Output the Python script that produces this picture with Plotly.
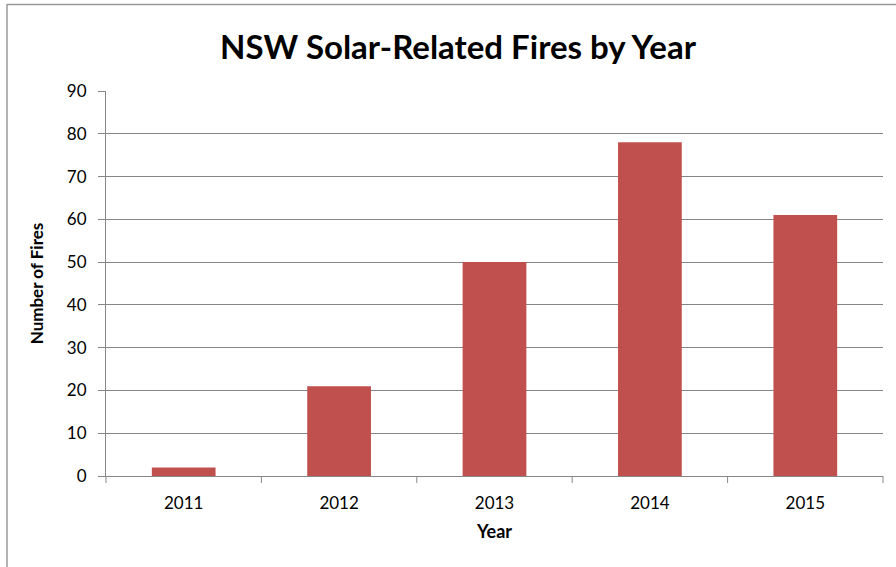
import plotly.graph_objects as go

years = ["2011", "2012", "2013", "2014", "2015"]
fires = [2, 21, 50, 78, 61]
y_ticks = [0, 10, 20, 30, 40, 50, 60, 70, 80, 90]

FONT = "Lato"
W, H = 896, 567
L, R, T, B = 106, 13, 91, 91
pw, ph = W - L - R, H - T - B

fig = go.Figure(go.Bar(
    x=years, y=fires,
    marker=dict(color="#C0504D", line=dict(width=0)),
))

def px(x):
    return (x - L) / pw

def py(y):
    return (H - B - y) / ph

fig.update_layout(
    width=W, height=H,
    margin=dict(l=L, r=R, t=T, b=B),
    paper_bgcolor="white", plot_bgcolor="white",
    bargap=0.59,
    showlegend=False,
    font=dict(family=FONT, color="black", size=17),
    title=dict(text="<b>NSW Solar-Related Fires by Year</b>",
               x=458 / W, xanchor="center", y=1 - 47 / H, yanchor="middle",
               font=dict(family=FONT, size=33, color="black")),
    xaxis=dict(
        title=dict(text="<b>Year</b>", font=dict(size=18), standoff=12),
        showline=True, linecolor="#868686", linewidth=1,
        ticks="outside", ticklen=0, showgrid=False,
        ticklabelstandoff=12,
        tickfont=dict(size=17),
    ),
    yaxis=dict(
        title=dict(text="<b>Number of Fires</b>", font=dict(size=17), standoff=18),
        range=[0, 90], tickvals=y_ticks,
        showline=True, linecolor="#868686", linewidth=1,
        ticks="outside", ticklen=7, tickcolor="#868686",
        ticklabelstandoff=8,
        showgrid=True, gridcolor="#868686", gridwidth=1,
        zeroline=False,
        tickfont=dict(size=17),
    ),
)

# category boundary tick marks on x axis
for i in range(len(years) + 1):
    x = i / len(years)
    fig.add_shape(type="line", xref="paper", yref="paper",
                  x0=x, x1=x, y0=0, y1=py(H - B + 7),
                  line=dict(color="#868686", width=1))

# chart border (left and top visible)
fig.add_shape(type="line", xref="paper", yref="paper",
              x0=px(7), x1=px(7), y0=py(4), y1=py(H + 5),
              line=dict(color="#9a9a9a", width=1.5))
fig.add_shape(type="line", xref="paper", yref="paper",
              x0=px(7), x1=px(W + 5), y0=py(4.5), y1=py(4.5),
              line=dict(color="#9a9a9a", width=1.5))

fig.write_html("out.html",
               config={"displayModeBar": False},
               post_script="document.body.style.margin='0';document.body.style.overflow='hidden';")
